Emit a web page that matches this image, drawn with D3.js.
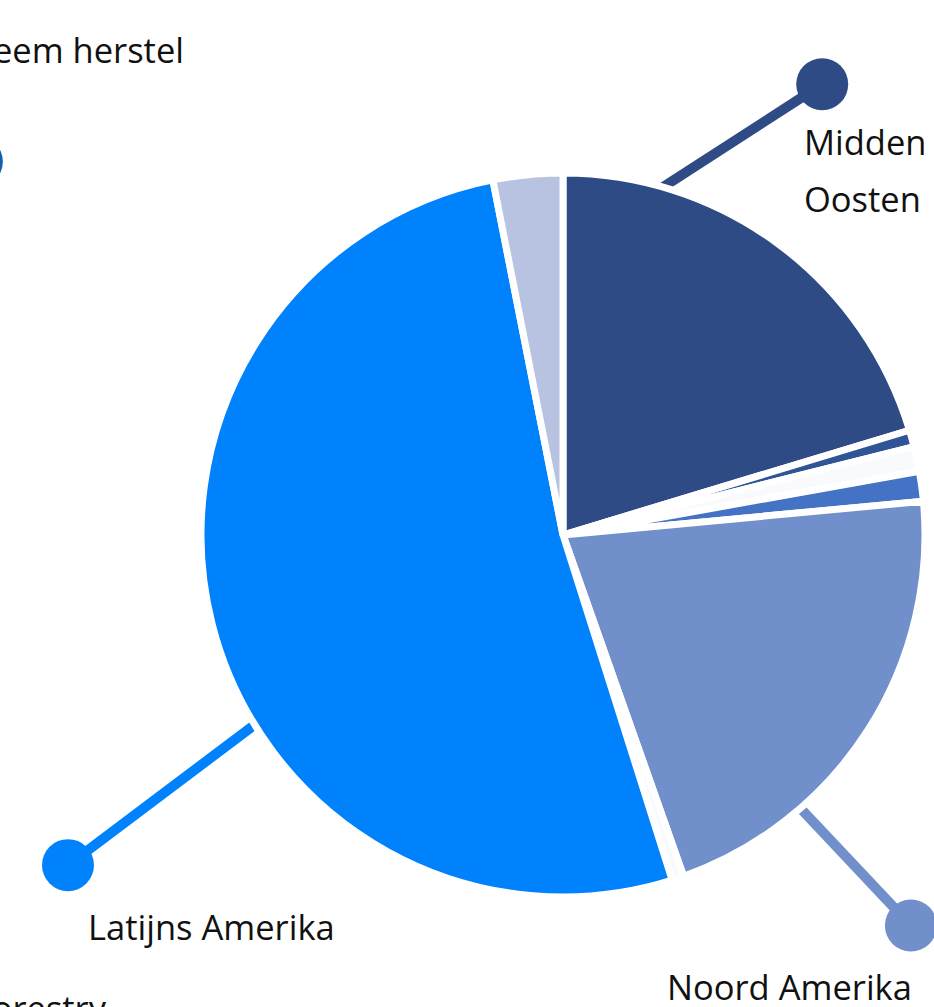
<!DOCTYPE html>
<html>
<head>
<meta charset="utf-8">
<script src="https://cdn.jsdelivr.net/npm/d3@7"></script>
<style>
  html, body { margin: 0; padding: 0; background: #fff; overflow: hidden; }
  text { font-family: "Open Sans", "Liberation Sans", sans-serif; fill: #111; }
</style>
</head>
<body>
<div id="chart"></div>
<script>
// slices, clockwise from 12 o'clock
var regions = ["Midden Oosten", "Europa", "Afrika", "Azië", "Noord Amerika", "Oceanië", "Latijns Amerika", "Overig"]
var shares  = [20.3, 0.75, 1.1, 1.33, 21.05, 0.53, 51.7, 3.1]
var colors  = ["#2e4b85", "#2f5597", "#f8fafd", "#4472c4", "#7190cb", "#f8fafd", "#0082fc", "#b8c3e2"]

var width = 934,
    height = 1007,
    cx = 563,
    cy = 535,
    radius = 362

var svg = d3.select("#chart")
    .append("svg")
    .attr("width", width)
    .attr("height", height)

var g = svg.append("g")
    .attr("transform", "translate(" + cx + "," + cy + ")")

var deg = Math.PI / 180

// leader lines: dot at (angle, r), line runs into the pie to (angle2, r2)
var leaders = [
    {color: "#2e4b85", a: 29.9, r: 520, a2: 7, r2: 310},
    {color: "#7190cb", a: 138.3, r: 523, a2: 139.5, r2: 300},
    {color: "#0082fc", a: 236.3, r: 595, a2: 239.5, r2: 300},
    {color: "#1062b0", a: 302.5, r: 695, a2: 302.5, r2: 695}
]

var lines = g.append("g").attr("class", "leaders")

lines.selectAll("line")
    .data(leaders)
    .enter()
    .append("line")
    .attr("x1", function(d) { return d3.pointRadial(d.a * deg, d.r)[0] })
    .attr("y1", function(d) { return d3.pointRadial(d.a * deg, d.r)[1] })
    .attr("x2", function(d) { return d3.pointRadial(d.a2 * deg, d.r2)[0] })
    .attr("y2", function(d) { return d3.pointRadial(d.a2 * deg, d.r2)[1] })
    .style("stroke", function(d) { return d.color })
    .style("stroke-width", 10)

lines.selectAll("circle")
    .data(leaders)
    .enter()
    .append("circle")
    .attr("cx", function(d) { return d3.pointRadial(d.a * deg, d.r)[0] })
    .attr("cy", function(d) { return d3.pointRadial(d.a * deg, d.r)[1] })
    .attr("r", 26)
    .style("fill", function(d) { return d.color })

// pie
var pie = d3.pie()
    .sort(null)
    .value(function(d) { return d })

var arc = d3.arc()
    .innerRadius(0)
    .outerRadius(radius)

g.append("g")
    .selectAll("path")
    .data(pie(shares))
    .enter()
    .append("path")
    .attr("d", arc)
    .style("fill", function(d, i) { return colors[i] })
    .style("stroke", "#fff")
    .style("stroke-width", 7)
    .style("stroke-linejoin", "miter")

// labels (some are cut off by the frame, as in the original)
var labels = [
    {lines: ["Midden", "Oosten"], x: 804, y: 155, anchor: "start"},
    {lines: ["Noord Amerika"], x: 667, y: 1000, anchor: "start"},
    {lines: ["Latijns Amerika"], x: 88, y: 940, anchor: "start"},
    {lines: ["Ecosysteem herstel"], x: 184, y: 63, anchor: "end"},
    {lines: ["Agroforestry"], x: 106, y: 1021, anchor: "end"}
]

var lab = svg.append("g")
    .selectAll("text")
    .data(labels)
    .enter()
    .append("text")
    .attr("x", function(d) { return d.x })
    .attr("y", function(d) { return d.y })
    .attr("text-anchor", function(d) { return d.anchor })
    .attr("font-size", 34.5)

lab.selectAll("tspan")
    .data(function(d) { return d.lines.map(function(t) { return {t: t, x: d.x} }) })
    .enter()
    .append("tspan")
    .attr("x", function(d) { return d.x })
    .attr("dy", function(d, i) { return i === 0 ? 0 : 57 })
    .text(function(d) { return d.t })
</script>
</body>
</html>
